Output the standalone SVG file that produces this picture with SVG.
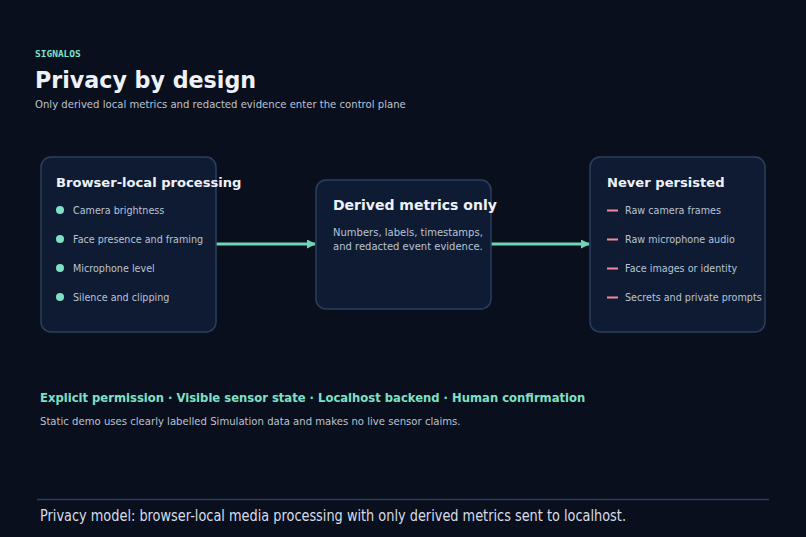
<svg xmlns="http://www.w3.org/2000/svg" width="806" height="537" viewBox="0 0 806 537">
<defs>
<marker id="arr" markerWidth="9" markerHeight="9" refX="8" refY="4.5" orient="auto" markerUnits="userSpaceOnUse">
<path d="M0,0 L9,4.5 L0,9 Z" fill="#6fd6b5"/>
</marker>
<style>
text{font-family:"DejaVu Sans","Noto Sans",sans-serif}
.box{fill:#0f1b33;stroke:#2b3f5e;stroke-width:1.5}
.bt{font-weight:bold;fill:#eef2f8}
.item{font-size:9.6px;fill:#b9c3d3}
.dot{fill:#7fe0c6}
.dash{stroke:#f08c92;stroke-width:2}
.conn{stroke:#6fd6b5;stroke-width:3;fill:none}
</style>
</defs>
<rect width="806" height="537" fill="#0a0f1d"/>
<g id="header">
<text x="35" y="57" style="font-family:'DejaVu Sans Mono',monospace;font-weight:bold;font-size:9.5px" fill="#7fe0c6">SIGNALOS</text>
<text x="35" y="88" style="font-size:22.2px;font-weight:bold" fill="#eef2f8">Privacy by design</text>
<text x="35" y="108" style="font-size:10.1px" fill="#b9c3d3">Only derived local metrics and redacted evidence enter the control plane</text>
</g>
<g id="connectors">
<line class="conn" x1="216" y1="244" x2="315" y2="244" marker-end="url(#arr)"/>
<line class="conn" x1="491" y1="244" x2="589" y2="244" marker-end="url(#arr)"/>
</g>
<g id="browser-local">
<rect class="box" x="41" y="157" width="175" height="175" rx="10"/>
<text class="bt" x="56" y="187" style="font-size:13.1px">Browser-local processing</text>
<circle class="dot" cx="60" cy="210" r="4"/><text class="item" x="73" y="214">Camera brightness</text>
<circle class="dot" cx="60" cy="239" r="4"/><text class="item" x="73" y="243">Face presence and framing</text>
<circle class="dot" cx="60" cy="268" r="4"/><text class="item" x="73" y="272">Microphone level</text>
<circle class="dot" cx="60" cy="297" r="4"/><text class="item" x="73" y="301">Silence and clipping</text>
</g>
<g id="derived">
<rect class="box" x="316" y="180" width="175" height="129" rx="10"/>
<text class="bt" x="333" y="210" style="font-size:14px">Derived metrics only</text>
<text class="item" x="333" y="236" style="font-size:10px">Numbers, labels, timestamps,</text>
<text class="item" x="333" y="250" style="font-size:10px">and redacted event evidence.</text>
</g>
<g id="never-persisted">
<rect class="box" x="590" y="157" width="175" height="175" rx="10"/>
<text class="bt" x="607" y="187" style="font-size:13.1px">Never persisted</text>
<line class="dash" x1="607" y1="210.5" x2="618" y2="210.5"/><text class="item" x="625" y="214">Raw camera frames</text>
<line class="dash" x1="607" y1="239.5" x2="618" y2="239.5"/><text class="item" x="625" y="243">Raw microphone audio</text>
<line class="dash" x1="607" y1="268.5" x2="618" y2="268.5"/><text class="item" x="625" y="272">Face images or identity</text>
<line class="dash" x1="607" y1="297.5" x2="618" y2="297.5"/><text class="item" x="625" y="301">Secrets and private prompts</text>
</g>
<g id="principles">
<text x="40" y="402" style="font-size:11.6px;font-weight:bold" fill="#7fe0c6">Explicit permission · Visible sensor state · Localhost backend · Human confirmation</text>
<text x="40" y="425" style="font-size:10.1px" fill="#b9c3d3">Static demo uses clearly labelled Simulation data and makes no live sensor claims.</text>
</g>
<g id="footer">
<line x1="37" y1="499.5" x2="769" y2="499.5" stroke="#2b3f5e" stroke-width="1.5"/>
<text x="40" y="521" style="font-size:15px" fill="#d6dde8" textLength="586" lengthAdjust="spacingAndGlyphs">Privacy model: browser-local media processing with only derived metrics sent to localhost.</text>
</g>
</svg>
